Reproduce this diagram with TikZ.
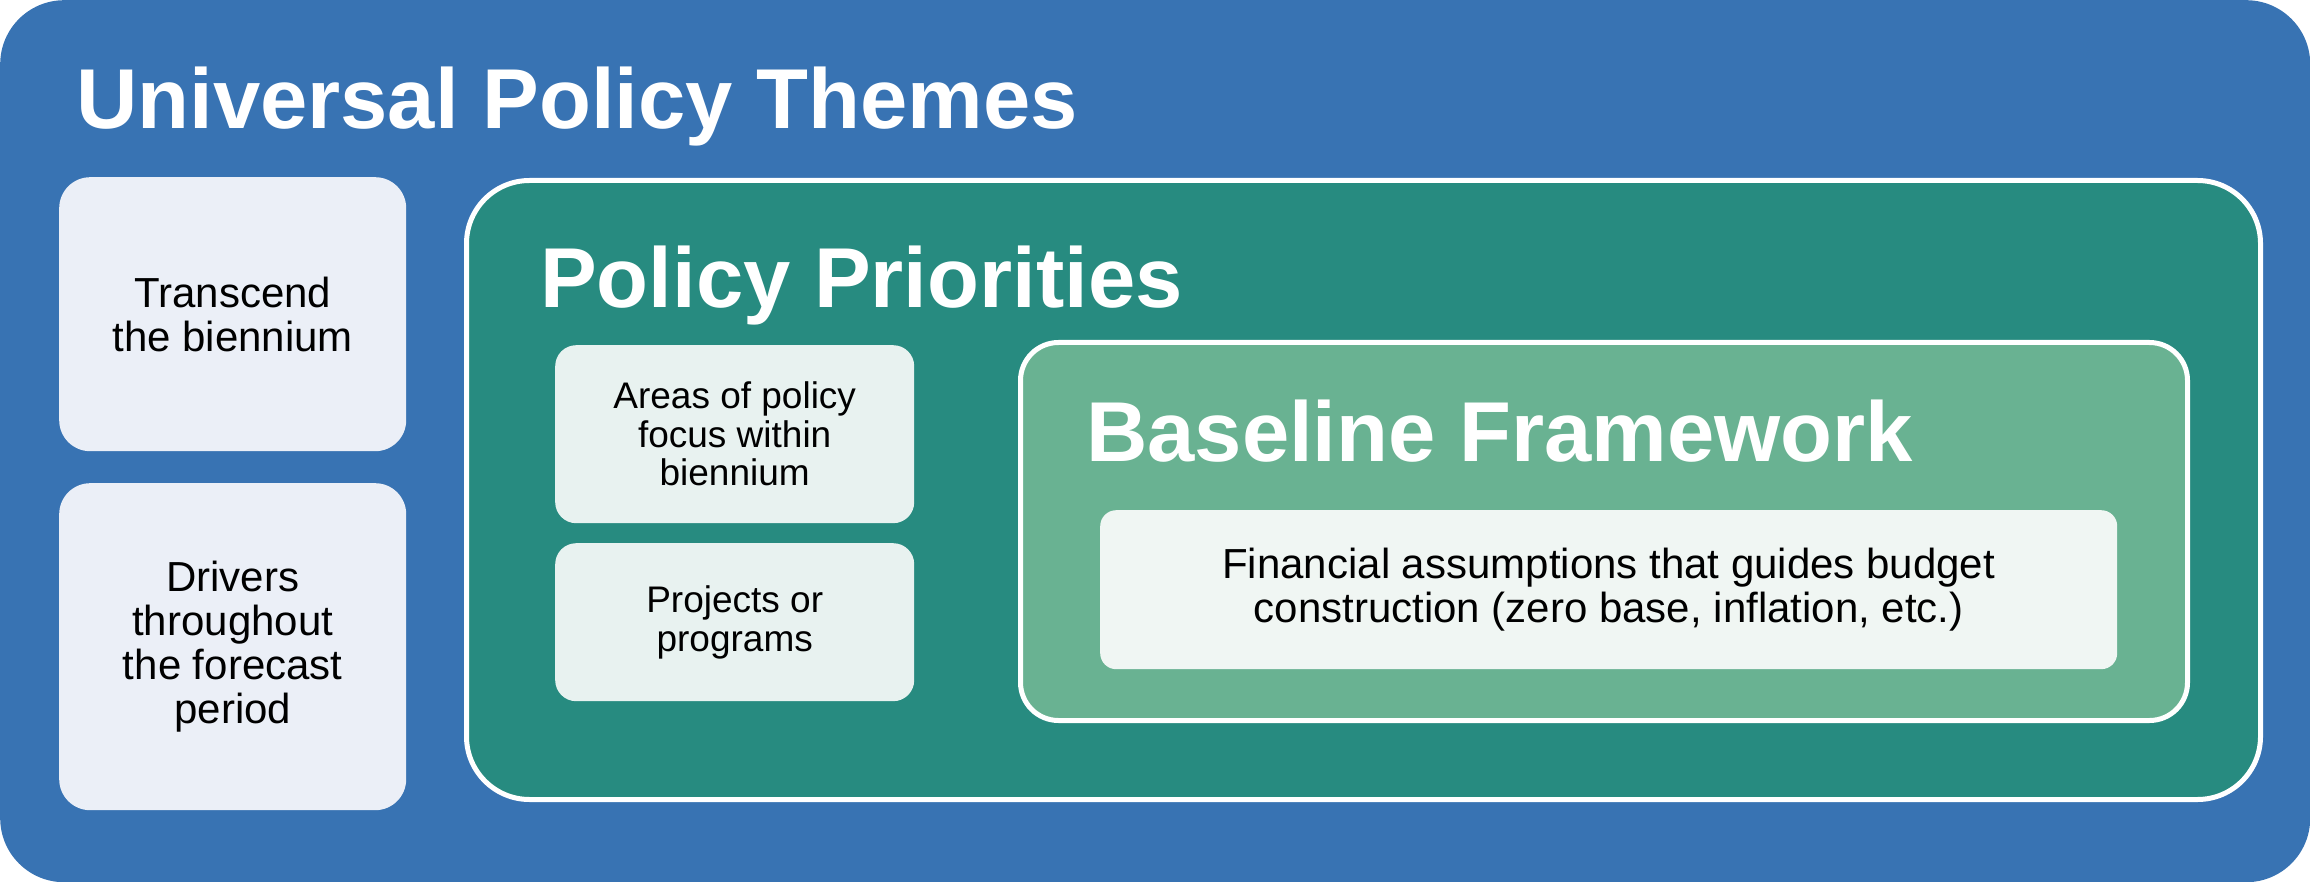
\documentclass[tikz,border=0pt]{standalone}
\usepackage{fontspec}
\setmainfont{Liberation Sans}
\definecolor{ubblue}{HTML}{3873B3}
\definecolor{ppteal}{HTML}{278B80}
\definecolor{bfgreen}{HTML}{69B292}
\definecolor{leftfill}{HTML}{EBEFF7}
\definecolor{smallfill}{HTML}{E8F2F0}
\definecolor{finfill}{HTML}{F0F6F3}
\tikzset{
  outerbox/.style={fill=ubblue, draw=none, rounded corners=64pt, inner sep=0pt},
  titletext/.style={text=white, inner sep=0pt, font=\fontsize{85}{90}\selectfont\bfseries},
  leftbox/.style={fill=leftfill, draw=none, rounded corners=31pt, inner sep=0pt, align=center, text=black, font=\fontsize{42}{44}\selectfont},
  ppbox/.style={fill=ppteal, draw=white, line width=5pt, rounded corners=63pt, inner sep=0pt},
  smallbox/.style={fill=smallfill, draw=none, rounded corners=21pt, inner sep=0pt, align=center, text=black, font=\fontsize{37}{38.5}\selectfont},
  bfbox/.style={fill=bfgreen, draw=white, line width=5pt, rounded corners=38pt, inner sep=0pt},
  finbox/.style={fill=finfill, draw=none, rounded corners=16pt, inner sep=0pt, align=center, text=black, font=\fontsize{42}{44}\selectfont}
}
\begin{document}
\begin{tikzpicture}[x=1pt,y=-1pt]
\useasboundingbox (0,0) rectangle (2310,882);
\node[outerbox, anchor=north west, minimum width=2310pt, minimum height=882pt] (universe) at (0,0) {};
\node[titletext, anchor=base west] (t1) at (76,129) {Universal Policy Themes};
\node[leftbox, anchor=north west, minimum width=347pt, minimum height=274pt] (transcend) at (59,177) {Transcend\\the biennium};
\node[leftbox, anchor=north west, minimum width=347pt, minimum height=327pt] (drivers) at (59,483) {Drivers\\throughout\\the forecast\\period};
\node[ppbox, anchor=north west, minimum width=1794pt, minimum height=619pt] (pp) at (464,178) {};
\node[titletext, anchor=base west] (t2) at (540,308) {Policy Priorities};
\node[smallbox, anchor=north west, minimum width=359pt, minimum height=178pt] (areas) at (555,345) {Areas of policy\\focus within\\biennium};
\node[smallbox, anchor=north west, minimum width=359pt, minimum height=158pt] (projects) at (555,543) {Projects or\\programs};
\node[bfbox, anchor=north west, minimum width=1167pt, minimum height=378pt] (bf) at (1018,340) {};
\node[titletext, anchor=base west] (t3) at (1086,461) {Baseline Framework};
\node[finbox, anchor=north west, minimum width=1017pt, minimum height=159pt] (fin) at (1100,510) {Financial assumptions that guides budget\\construction (zero base, inflation, etc.)};
\end{tikzpicture}
\end{document}
